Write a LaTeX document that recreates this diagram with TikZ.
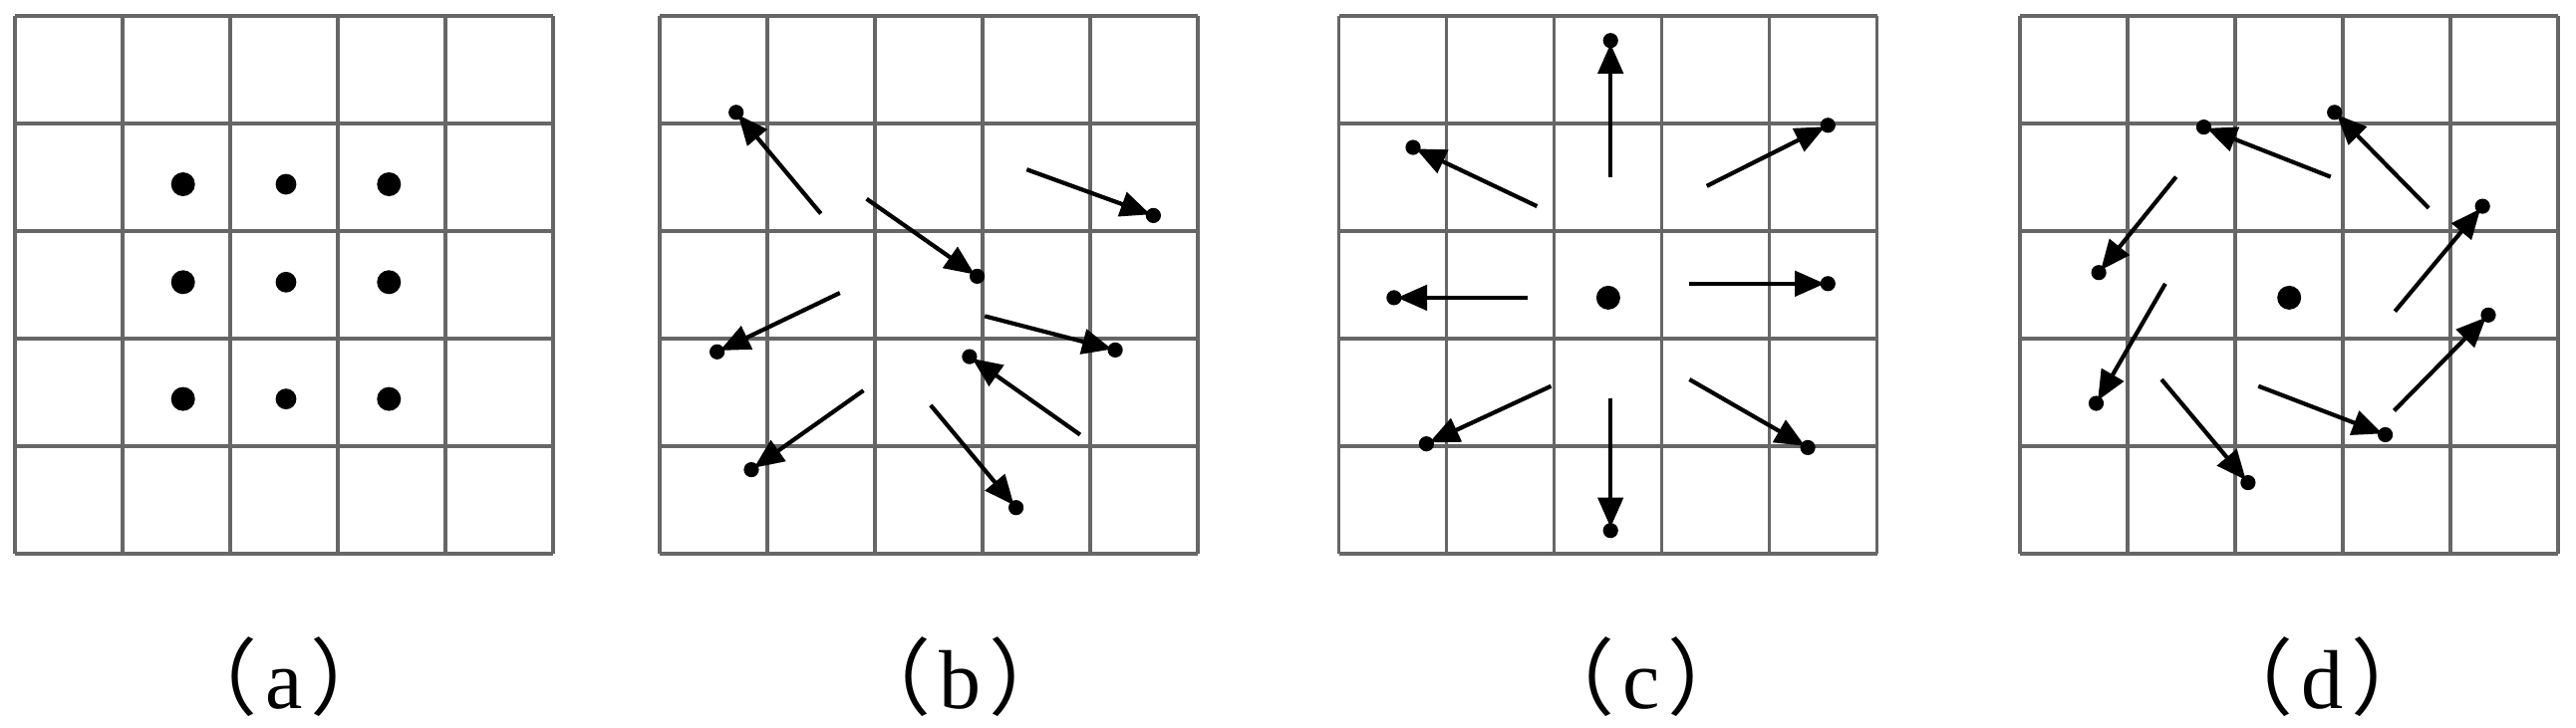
\documentclass[tikz,border=0pt]{standalone}
\usepackage{fontspec}
\setmainfont{Liberation Serif}
\newfontfamily\cjk{Noto Sans CJK SC}
\usetikzlibrary{arrows.meta}

\tikzset{
  gridline/.style={draw=black!60, line width=0.85pt},
  vec/.style={draw=black, line width=1.05pt, -{Triangle[length=7.5pt,width=6.3pt]}, shorten >=-1.3pt},
  tipdot/.style={circle, fill=black, inner sep=0pt, minimum size=3.8pt},
  bigdot/.style={circle, fill=black, inner sep=0pt, minimum size=6pt},
  caption/.style={anchor=base, inner sep=0pt, font=\fontsize{21pt}{25pt}\selectfont},
}
\newcommand{\sublabel}[1]{{\cjk （}\kern2pt#1\kern2pt{\cjk ）}}

\begin{document}
\begin{tikzpicture}[x=0.25pt,y=0.25pt,yscale=-1,xscale=1]
\useasboundingbox (0,0) rectangle (2585,730);

%Shape: Grids (5 x 5 cells each)
\foreach \px in {15,662,1343.5,2027}{
  \foreach \k in {0,...,5}{
    \draw [gridline] (\px+\k*108,16) -- (\px+\k*108,556);
    \draw [gridline] (\px,16+\k*108) -- (\px+540,16+\k*108);
  }
}

%Shape: Circles (a)
\node [bigdot] (a11) at (183.7,185) {};
\node [bigdot, minimum size=5.2pt] (a12) at (287,185) {};
\node [bigdot] (a13) at (390.3,185) {};
\node [bigdot] (a21) at (183.7,283.3) {};
\node [bigdot, minimum size=5.2pt] (a22) at (287,283.3) {};
\node [bigdot] (a23) at (390.3,283.3) {};
\node [bigdot] (a31) at (183.7,400.6) {};
\node [bigdot, minimum size=5.2pt] (a32) at (287,400.6) {};
\node [bigdot] (a33) at (390.3,400.6) {};

%Shape: Arrows (b)
\coordinate (b1t) at (823.7,214.5); \node [tipdot] (b1h) at (738.7,112.8) {}; \draw [vec] (b1t) -- (b1h);
\coordinate (b2t) at (869.6,199.7); \node [tipdot] (b2h) at (980.6,277.4) {}; \draw [vec] (b2t) -- (b2h);
\coordinate (b3t) at (1030.3,170.2); \node [tipdot] (b3h) at (1157.4,216.4) {}; \draw [vec] (b3t) -- (b3h);
\coordinate (b4t) at (842.8,294.1); \node [tipdot] (b4h) at (719.6,353.3) {}; \draw [vec] (b4t) -- (b4h);
\coordinate (b5t) at (988.2,317.4); \node [tipdot] (b5h) at (1119.1,351.4) {}; \draw [vec] (b5t) -- (b5h);
\coordinate (b6t) at (1083.9,436.5); \node [tipdot] (b6h) at (972.9,358.1) {}; \draw [vec] (b6t) -- (b6h);
\coordinate (b7t) at (866.5,392.1); \node [tipdot] (b7h) at (754,471.6) {}; \draw [vec] (b7t) -- (b7h);
\coordinate (b8t) at (933.9,406.9); \node [tipdot] (b8h) at (1019.6,509.7) {}; \draw [vec] (b8t) -- (b8h);

%Shape: Arrows (c)
\node [bigdot] (c0) at (1613.9,298.9) {};
\coordinate (cNt) at (1616.2,177.6); \node [tipdot] (cNh) at (1616.2,40.7) {}; \draw [vec] (cNt) -- (cNh);
\coordinate (cNEt) at (1712.7,186.8); \node [tipdot] (cNEh) at (1834.3,125.8) {}; \draw [vec] (cNEt) -- (cNEh);
\coordinate (cNWt) at (1542.4,207.1); \node [tipdot] (cNWh) at (1418,148) {}; \draw [vec] (cNWt) -- (cNWh);
\coordinate (cWt) at (1532.8,298.9); \node [tipdot] (cWh) at (1398.9,298.9) {}; \draw [vec] (cWt) -- (cWh);
\coordinate (cEt) at (1695.4,284.8); \node [tipdot] (cEh) at (1834.3,284.8) {}; \draw [vec] (cEt) -- (cEh);
\coordinate (cSWt) at (1556.5,387.7); \node [tipdot] (cSWh) at (1431.4,445.7) {}; \draw [vec] (cSWt) -- (cSWh);
\coordinate (cSt) at (1616.2,399.5); \node [tipdot] (cSh) at (1616.2,532.7) {}; \draw [vec] (cSt) -- (cSh);
\coordinate (cSEt) at (1695.4,381); \node [tipdot] (cSEh) at (1814.1,449.4) {}; \draw [vec] (cSEt) -- (cSEh);

%Shape: Arrows (d)
\node [bigdot] (d0) at (2297.2,298.9) {};
\coordinate (d1t) at (2338.8,177.6); \node [tipdot] (d1h) at (2211.5,127.6) {}; \draw [vec] (d1t) -- (d1h);
\coordinate (d2t) at (2437.2,209); \node [tipdot] (d2h) at (2342.7,112.8) {}; \draw [vec] (d2t) -- (d2h);
\coordinate (d3t) at (2403.3,312.6); \node [tipdot] (d3h) at (2491.2,207.1) {}; \draw [vec] (d3t) -- (d3h);
\coordinate (d4t) at (2402.5,412.4); \node [tipdot] (d4h) at (2497,316.3) {}; \draw [vec] (d4t) -- (d4h);
\coordinate (d5t) at (2266.3,387.7); \node [tipdot] (d5h) at (2393.6,436.5) {}; \draw [vec] (d5t) -- (d5h);
\coordinate (d6t) at (2169.1,381); \node [tipdot] (d6h) at (2255.9,484.6) {}; \draw [vec] (d6t) -- (d6h);
\coordinate (d7t) at (2172.9,284.8); \node [tipdot] (d7h) at (2103.5,405) {}; \draw [vec] (d7t) -- (d7h);
\coordinate (d8t) at (2183.7,177.6); \node [tipdot] (d8h) at (2106.1,273.7) {}; \draw [vec] (d8t) -- (d8h);

% Text Node
\node [caption] (capa) at (285,711) {\sublabel{a}};
% Text Node
\node [caption] (capb) at (963,711) {\sublabel{b}};
% Text Node
\node [caption] (capc) at (1647,711) {\sublabel{c}};
% Text Node
\node [caption] (capd) at (2330,711) {\sublabel{d}};

\end{tikzpicture}
\end{document}
